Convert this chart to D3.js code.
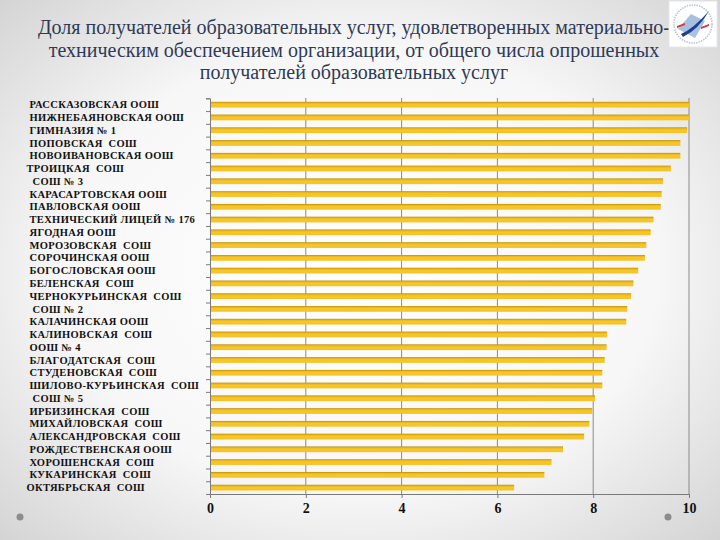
<!DOCTYPE html>
<html><head><meta charset="utf-8">
<script src="https://cdn.jsdelivr.net/npm/d3@7/dist/d3.min.js"></script>
<style>html,body{margin:0;padding:0;background:#fff}svg{display:block}</style>
</head><body>
<script>
const titleLines = [
  "Доля получателей образовательных услуг, удовлетворенных материально-",
  "техническим обеспечением организации, от общего числа опрошенных",
  "получателей образовательных услуг"
];
const categories = [
  " РАССКАЗОВСКАЯ ООШ"," НИЖНЕБАЯНОВСКАЯ ООШ"," ГИМНАЗИЯ № 1"," ПОПОВСКАЯ  СОШ",
  " НОВОИВАНОВСКАЯ ООШ","ТРОИЦКАЯ  СОШ","  СОШ № 3"," КАРАСАРТОВСКАЯ ООШ",
  " ПАВЛОВСКАЯ ООШ"," ТЕХНИЧЕСКИЙ ЛИЦЕЙ № 176"," ЯГОДНАЯ ООШ"," МОРОЗОВСКАЯ  СОШ",
  " СОРОЧИНСКАЯ ООШ"," БОГОСЛОВСКАЯ ООШ"," БЕЛЕНСКАЯ  СОШ"," ЧЕРНОКУРЬИНСКАЯ  СОШ",
  "  СОШ № 2"," КАЛАЧИНСКАЯ ООШ"," КАЛИНОВСКАЯ  СОШ"," ООШ № 4"," БЛАГОДАТСКАЯ  СОШ",
  " СТУДЕНОВСКАЯ  СОШ"," ШИЛОВО-КУРЬИНСКАЯ  СОШ","  СОШ № 5"," ИРБИЗИНСКАЯ  СОШ",
  " МИХАЙЛОВСКАЯ  СОШ"," АЛЕКСАНДРОВСКАЯ  СОШ"," РОЖДЕСТВЕНСКАЯ ООШ"," ХОРОШЕНСКАЯ  СОШ",
  " КУКАРИНСКАЯ  СОШ","ОКТЯБРЬСКАЯ  СОШ"
];
const values = [
  10.0, 10.0, 9.96, 9.82, 9.82, 9.62, 9.46, 9.43, 9.41, 9.26, 9.20, 9.11,
  9.08, 8.94, 8.84, 8.79, 8.71, 8.69, 8.29, 8.28, 8.24, 8.19, 8.19, 8.04,
  7.98, 7.92, 7.81, 7.37, 7.13, 6.98, 6.35
];
const xTicks = [0, 2, 4, 6, 8, 10];

const SERIF = '"Liberation Serif"';
const W = 720, H = 540;
const svg = d3.select("body").append("svg").attr("width", W).attr("height", H);
const defs = svg.append("defs");
const bg = defs.append("radialGradient").attr("id","bg").attr("cx","50%").attr("cy","50%").attr("r","75%");
bg.append("stop").attr("offset","0%").attr("stop-color","#ffffff");
bg.append("stop").attr("offset","55%").attr("stop-color","#f7f7f7");
bg.append("stop").attr("offset","100%").attr("stop-color","#cfcfcf");
svg.append("rect").attr("width",W).attr("height",H).attr("fill","url(#bg)");

const barG = defs.append("linearGradient").attr("id","barg").attr("x1",0).attr("y1",0).attr("x2",0).attr("y2",1);
barG.append("stop").attr("offset","0%").attr("stop-color","#b8900f");
barG.append("stop").attr("offset","22%").attr("stop-color","#e9b514");
barG.append("stop").attr("offset","45%").attr("stop-color","#f8c627");
barG.append("stop").attr("offset","100%").attr("stop-color","#f6c22a");

// title
svg.append("g").selectAll("text").data(titleLines).join("text")
  .attr("x", 354).attr("y", (d,i) => 34 + i*22.6)
  .attr("text-anchor","middle")
  .style("font-family", SERIF)
  .style("font-size", "20px").attr("fill", "#2e3a56")
  .text(d => d);

// logo
const logo = svg.append("g").attr("transform","translate(669,1)");
logo.append("rect").attr("width",48).attr("height",46).attr("fill","#ffffff").attr("stroke","#e4e8ee");
logo.append("circle").attr("cx",24).attr("cy",23).attr("r",19).attr("fill","none").attr("stroke","#b8c3d4").attr("stroke-width",1.5).attr("stroke-dasharray","1.5,1");
logo.append("path").attr("d","M9,28 L22,13 L36,20 L26,37 Z").attr("fill","#a9c0e0");
logo.append("path").attr("d","M12,33 Q24,28 40,10 Q30,28 14,36 Z").attr("fill","#1d3f8f");
logo.append("path").attr("d","M8,25 L16,22 L16,24 L8,27 Z").attr("fill","#d23b3b");
logo.append("path").attr("d","M32,26 L40,23 L40,25 L32,28 Z").attr("fill","#d23b3b");

// decorative dots
svg.append("circle").attr("cx",20).attr("cy",517).attr("r",3.5).attr("fill","#8c8c8c");
svg.append("circle").attr("cx",668).attr("cy",517).attr("r",3.5).attr("fill","#8c8c8c");

const x = d3.scaleLinear().domain([0,10]).range([210, 689]);
const y = d3.scaleBand().domain(categories).range([98.3, 494]).paddingInner(0.55).paddingOuter(0.275);

// grid lines
svg.append("g").selectAll("line").data(xTicks.slice(1)).join("line")
  .attr("x1", d => x(d)).attr("x2", d => x(d)).attr("y1", 98).attr("y2", 494)
  .attr("stroke","#8a8a8a").attr("stroke-width",1);

// bars
svg.append("g").selectAll("rect").data(values).join("rect")
  .attr("x", x(0)).attr("y", (d,i) => y(categories[i]))
  .attr("width", d => x(d) - x(0)).attr("height", y.bandwidth())
  .attr("fill","url(#barg)");

// y axis
const yAxis = svg.append("g").attr("transform","translate(210,0)")
  .call(d3.axisLeft(d3.scaleLinear().domain([0,31]).range([98.3,494])).tickValues(d3.range(32)).tickSize(4).tickFormat(""));
yAxis.selectAll("line,path").attr("stroke","#7a7a7a");

// y labels
svg.append("g").selectAll("text").data(categories).join("text")
  .attr("x", 26.5).attr("y", d => y(d) + y.bandwidth()/2 + 3.6)
  .attr("xml:space","preserve").style("white-space","pre")
  .style("font-family", SERIF)
  .style("font-weight","bold").style("font-size","10.5px").style("letter-spacing","0.35px")
  .attr("fill","#111")
  .text(d => d);

// x axis
const xAxis = svg.append("g").attr("transform","translate(0,494)")
  .call(d3.axisBottom(x).tickValues(xTicks).tickSize(4).tickSizeOuter(0).tickPadding(5).tickFormat(d3.format("d")));
xAxis.selectAll("line,path").attr("stroke","#7a7a7a");
xAxis.selectAll("text").style("font-family", SERIF)
  .style("font-weight","bold").style("font-size","14px").attr("fill","#111");
</script>
</body></html>
